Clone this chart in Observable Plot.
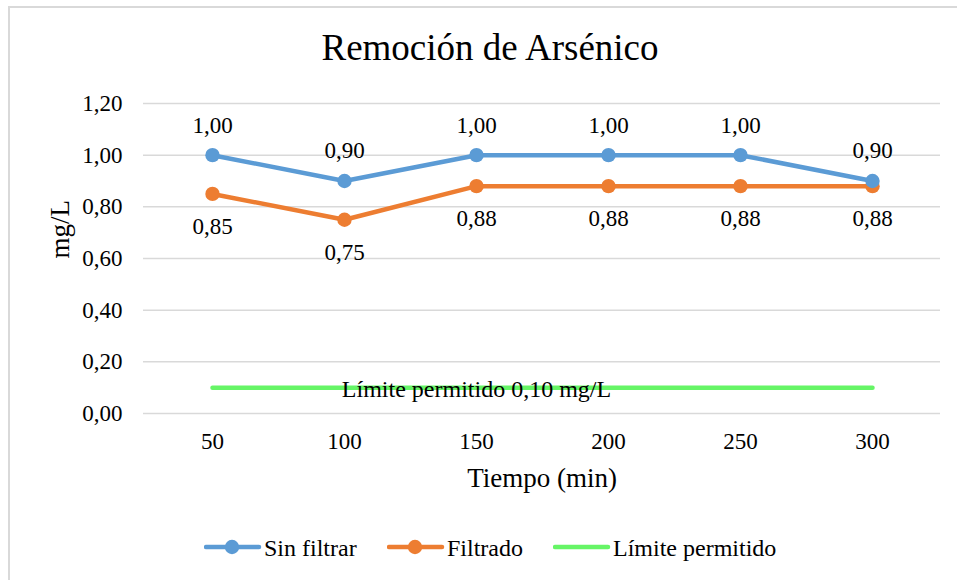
<!DOCTYPE html>
<html>
<head>
<meta charset="utf-8">
<script src="https://cdn.jsdelivr.net/npm/d3@7"></script>
<script src="https://cdn.jsdelivr.net/npm/@observablehq/plot@0.6"></script>
</head>
<body style="margin:0;padding:0;background:#fff;width:957px;height:580px;overflow:hidden;position:relative;">
<div id="border" style="position:absolute;left:8px;top:6px;width:1200px;height:1200px;border:2px solid #d9d9d9;box-sizing:border-box;"></div>
<div id="title" style="position:absolute;left:0;width:980px;top:29px;text-align:center;font-size:37px;line-height:37px;color:#000;">Remoción de Arsénico</div>
<div id="chart" style="position:absolute;left:0;top:80px;"></div>
<div id="legend"></div>
<script>
const tiempos = ["50", "100", "150", "200", "250", "300"];
const sinFiltrar = [1.00, 0.90, 1.00, 1.00, 1.00, 0.90];
const filtrado = [0.85, 0.75, 0.88, 0.88, 0.88, 0.88];
const limite = [0.10, 0.10, 0.10, 0.10, 0.10, 0.10];
const yTicks = [0, 0.2, 0.4, 0.6, 0.8, 1.0, 1.2];
const seriesNames = ["Sin filtrar", "Filtrado", "Límite permitido"];
const seriesColors = ["#5B9BD5", "#ED7D31", "#66F566"];
const limiteLabel = "Límite permitido 0,10 mg/L";
const xTitle = "Tiempo (min)";
const yTitle = "mg/L";

const FONT = '"Liberation Serif"';
document.body.style.fontFamily = FONT;
document.getElementById("title").style.fontFamily = FONT;

const fmt = v => d3.format(".2f")(v).replace(".", ",");
const rows = (vals, s) => vals.map((v, i) => ({t: tiempos[i], v, s}));
const dSin = rows(sinFiltrar, seriesNames[0]);
const dFil = rows(filtrado, seriesNames[1]);
const dLim = rows(limite, seriesNames[2]);

const T = (size) => ({fontSize: size, fill: "#000", fontFamily: "Liberation Serif"});

const plot = Plot.plot({
  width: 957,
  height: 420,
  marginTop: 23,
  marginBottom: 87,
  marginLeft: 143,
  marginRight: 17,
  style: {fontSize: "23px", color: "#000", background: "transparent"},
  x: {type: "point", domain: tiempos, padding: 0.5, label: null},
  y: {domain: [0, 1.2], label: null},
  marks: [
    Plot.ruleY(yTicks, {stroke: "#d9d9d9", strokeWidth: 1.5}),
    Plot.axisY(yTicks, {tickSize: 0, tickPadding: 21, tickFormat: fmt, label: null, ...T(23)}),
    Plot.axisX({tickSize: 0, tickPadding: 19, label: null, ...T(23)}),
    Plot.text([xTitle], {frameAnchor: "bottom", lineAnchor: "middle", dy: 64.5, ...T(27)}),
    Plot.text([yTitle], {frameAnchor: "left", lineAnchor: "middle", dx: -83, rotate: -90, ...T(27)}),
    Plot.line(dLim, {x: "t", y: "v", stroke: seriesColors[2], strokeWidth: 4.5, strokeLinecap: "round"}),
    Plot.text([dLim[2]], {x: "t", y: "v", text: () => limiteLabel, dy: 1.8, ...T(24)}),
    Plot.line(dFil, {x: "t", y: "v", stroke: seriesColors[1], strokeWidth: 4.5, strokeLinejoin: "round"}),
    Plot.dot(dFil, {x: "t", y: "v", r: 7.2, fill: seriesColors[1], stroke: null}),
    Plot.line(dSin, {x: "t", y: "v", stroke: seriesColors[0], strokeWidth: 4.5, strokeLinejoin: "round"}),
    Plot.dot(dSin, {x: "t", y: "v", r: 7.2, fill: seriesColors[0], stroke: null}),
    Plot.text(dSin, {x: "t", y: "v", text: d => fmt(d.v), dy: -30, ...T(23)}),
    Plot.text(dFil, {x: "t", y: "v", text: d => fmt(d.v), dy: 32.5, ...T(23)})
  ]
});
plot.style.fontFamily = FONT;
document.getElementById("chart").appendChild(plot);

// Legend
const legendSwatchLefts = [204, 387, 553];
const legendTextLefts = [264, 447, 613];
const legend = document.getElementById("legend");
seriesNames.forEach((name, i) => {
  const sw = document.createElement("div");
  Object.assign(sw.style, {position: "absolute", top: "533.7px", left: legendSwatchLefts[i] + "px", width: "58px", height: "26px"});
  const marker = i < 2 ? `<circle cx="28" cy="13" r="7.2" fill="${seriesColors[i]}"/>` : "";
  sw.innerHTML = `<svg width="58" height="26" style="display:block"><line x1="2" x2="55" y1="13" y2="13" stroke="${seriesColors[i]}" stroke-width="4.5" stroke-linecap="round"/>${marker}</svg>`;
  legend.appendChild(sw);
  const tx = document.createElement("span");
  Object.assign(tx.style, {position: "absolute", top: "535.6px", left: legendTextLefts[i] + "px", fontSize: "24px", lineHeight: "24px", color: "#000", whiteSpace: "nowrap"});
  tx.style.fontFamily = FONT;
  tx.textContent = name;
  legend.appendChild(tx);
});
</script>
</body>
</html>
